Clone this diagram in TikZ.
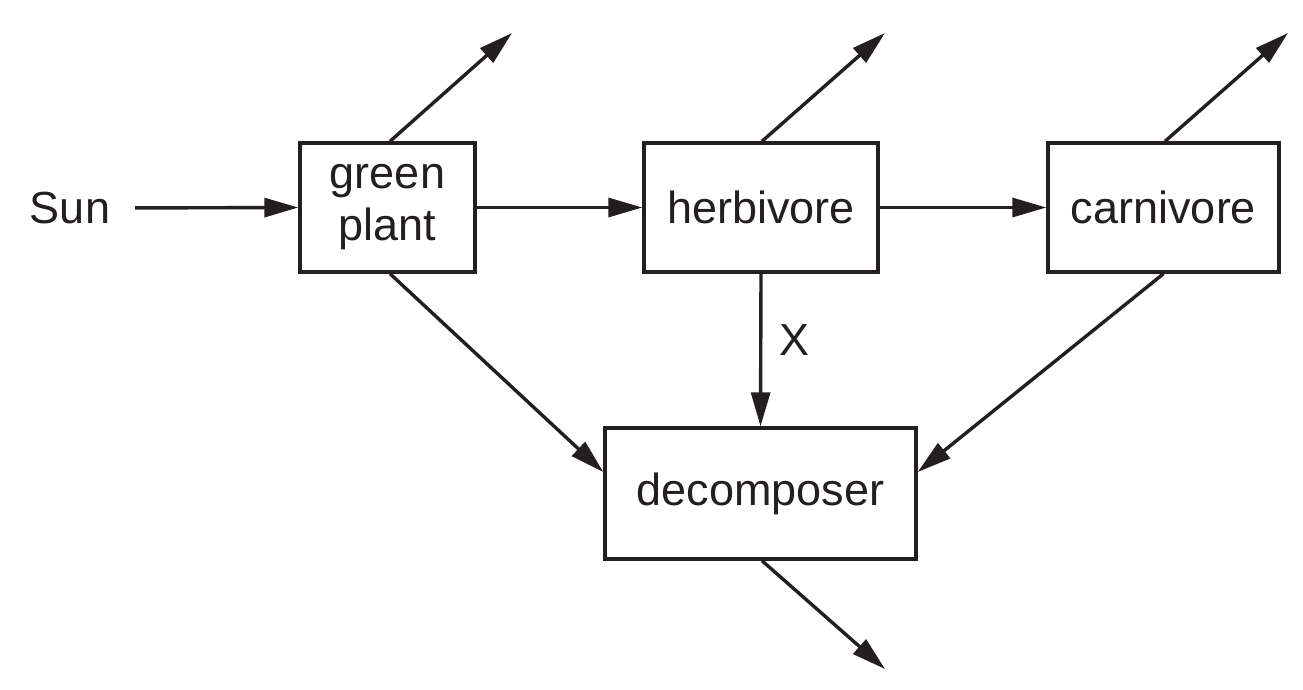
\documentclass[tikz,border=0pt]{standalone}
\usepackage{fontspec}
\setmainfont{Liberation Sans}
\usetikzlibrary{arrows.meta}
\definecolor{ink}{HTML}{231F20}
\begin{document}
\begin{tikzpicture}[x=1pt,y=-1pt,
  box/.style={draw=ink,line width=3.4pt,inner sep=0pt,minimum height=129pt,align=center,
    font=\fontsize{45}{52}\selectfont,text=ink},
  lbl/.style={inner sep=0pt,font=\fontsize{45}{52}\selectfont,text=ink},
  arr/.style={draw=ink,line width=3.4pt,-{Triangle[length=34pt,width=19pt]}}]
\useasboundingbox (0,0) rectangle (1303,689);
\node[box,minimum width=175pt] (gp) at (387.5,207.5) {green\\plant};
\node[box,minimum width=234pt] (herb) at (761,207.5) {herbivore};
\node[box,minimum width=231pt] (carn) at (1163.5,207.5) {carnivore};
\node[box,minimum width=311pt,minimum height=131pt] (dec) at (760.5,493.5) {decomposer};
\node[lbl] (sun) at (70,208) {Sun};
\node[lbl] (x) at (794,340) {X};
\coordinate (gpo) at (512,33);
\coordinate (herbo) at (885,33);
\coordinate (carno) at (1288,33);
\coordinate (deco) at (885,669);
\draw[arr,shorten <=25pt] (sun.east) -- (gp.west);
\draw[arr] (gp.east) -- (herb.west);
\draw[arr] (herb.east) -- (carn.west);
\draw[arr] ([xshift=2.5pt]gp.north) -- (gpo);
\draw[arr] ([xshift=1pt]herb.north) -- (herbo);
\draw[arr] ([xshift=1.5pt]carn.north) -- (carno);
\draw[arr] ([xshift=2.5pt]gp.south) -- ([yshift=21.5pt]dec.west);
\draw[arr] (herb.south) -- (dec.north);
\draw[arr] (carn.south) -- ([yshift=21.5pt]dec.east);
\draw[arr] ([xshift=1.5pt]dec.south) -- (deco);
\end{tikzpicture}
\end{document}
